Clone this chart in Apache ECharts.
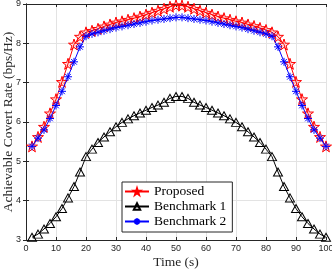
<!DOCTYPE html>
<html>
<head>
<meta charset="utf-8">
<script src="https://cdn.jsdelivr.net/npm/echarts@6/dist/echarts.min.js"></script>
<style>html,body{margin:0;padding:0;background:#fff;}#c{width:332px;height:271px;}</style>
</head>
<body>
<div id="c"></div>
<script>
var timeValues = [2,4,6,8,10,12,14,16,18,20,22,24,26,28,30,32,34,36,38,40,42,44,46,48,50,52,54,56,58,60,62,64,66,68,70,72,74,76,78,80,82,84,86,88,90,92,94,96,98,100];
var proposed = [5.38,5.62,5.88,6.22,6.58,7.02,7.48,7.97,8.17,8.28,8.32,8.37,8.43,8.48,8.53,8.56,8.60,8.64,8.68,8.73,8.78,8.83,8.88,8.93,8.97,8.96,8.93,8.88,8.83,8.78,8.73,8.68,8.64,8.60,8.56,8.53,8.48,8.44,8.39,8.34,8.28,8.17,7.97,7.48,7.02,6.58,6.22,5.88,5.62,5.38];
var benchmark1 = [3.07,3.15,3.28,3.42,3.59,3.80,4.07,4.36,4.73,5.12,5.31,5.48,5.62,5.75,5.88,5.99,6.08,6.16,6.23,6.30,6.37,6.43,6.50,6.60,6.65,6.65,6.60,6.50,6.43,6.37,6.30,6.23,6.16,6.08,5.99,5.88,5.75,5.62,5.48,5.31,5.12,4.73,4.36,4.07,3.80,3.59,3.42,3.28,3.15,3.07];
var benchmark2 = [5.38,5.59,5.80,6.09,6.42,6.78,7.15,7.53,7.91,8.18,8.24,8.28,8.32,8.36,8.40,8.43,8.46,8.49,8.52,8.55,8.58,8.60,8.62,8.64,8.66,8.66,8.64,8.62,8.60,8.58,8.55,8.52,8.49,8.46,8.43,8.40,8.36,8.32,8.28,8.24,8.18,7.91,7.53,7.15,6.78,6.42,6.09,5.80,5.59,5.38];
var seriesNames = ['Proposed','Benchmark 1','Benchmark 2'];
var xTitle = 'Time (s)';
var yTitle = 'Achievable Covert Rate (bps/Hz)';

function pairs(ys){ return timeValues.map(function(x,i){ return [x, ys[i]]; }); }

var starPath = 'path://M0,-1L0.225,-0.309L0.951,-0.309L0.363,0.118L0.588,0.809L0,0.382L-0.588,0.809L-0.363,0.118L-0.951,-0.309L-0.225,-0.309Z';
var asteriskPath = 'path://M0,-1L0,1M-1,0L1,0M-0.707,-0.707L0.707,0.707M-0.707,0.707L0.707,-0.707';

var axisCol = '#262626';
var tickFont = {color: axisCol, fontFamily: 'Liberation Sans, Arial, sans-serif', fontSize: 9};
var serif = 'Liberation Serif, Times New Roman, serif';

var chart = echarts.init(document.getElementById('c'), null, {renderer: 'canvas'});
chart.setOption({
  animation: false,
  backgroundColor: '#fff',
  grid: {left: 26, right: 6, top: 4, bottom: 31, containLabel: false, outerBoundsMode: 'none'},
  legend: {
    orient: 'vertical', left: 122, top: 182,
    padding: [2, 6, 3, 2],
    itemWidth: 24, itemHeight: 8, itemGap: 0,
    backgroundColor: '#fff', borderColor: axisCol, borderWidth: 1,
    textStyle: {fontFamily: serif, fontSize: 13.5, color: '#000', lineHeight: 15},
    data: seriesNames
  },
  xAxis: [{
    type: 'value', min: 0, max: 100, interval: 10,
    name: xTitle, nameLocation: 'middle', nameGap: 15, nameMoveOverlap: false,
    nameTextStyle: {fontFamily: serif, fontSize: 13.5, color: axisCol},
    axisLine: {show: true, lineStyle: {color: axisCol, width: 1}},
    axisTick: {show: true, inside: true, length: 3, lineStyle: {color: axisCol}},
    axisLabel: Object.assign({margin: 4}, tickFont),
    splitLine: {show: true, lineStyle: {color: '#e3e3e3', width: 1}}
  }, {
    type: 'value', min: 0, max: 100, interval: 10, position: 'top',
    axisLine: {show: true, lineStyle: {color: axisCol, width: 1}},
    axisTick: {show: true, inside: true, length: 3, lineStyle: {color: axisCol}},
    axisLabel: {show: false}, splitLine: {show: false}
  }],
  yAxis: [{
    type: 'value', min: 3, max: 9, interval: 1,
    name: yTitle, nameLocation: 'middle', nameGap: 11, nameRotate: 90, nameMoveOverlap: false,
    nameTextStyle: {fontFamily: serif, fontSize: 13.5, color: axisCol},
    axisLine: {show: true, lineStyle: {color: axisCol, width: 1}},
    axisTick: {show: true, inside: true, length: 3, lineStyle: {color: axisCol}},
    axisLabel: Object.assign({margin: 5}, tickFont),
    splitLine: {show: true, lineStyle: {color: '#e3e3e3', width: 1}}
  }, {
    type: 'value', min: 3, max: 9, interval: 1, position: 'right',
    axisLine: {show: true, lineStyle: {color: axisCol, width: 1}},
    axisTick: {show: true, inside: true, length: 3, lineStyle: {color: axisCol}},
    axisLabel: {show: false}, splitLine: {show: false}
  }],
  series: [{
    name: seriesNames[0], type: 'line', data: pairs(proposed),
    symbol: starPath, symbolSize: 11, showAllSymbol: true,
    lineStyle: {color: '#ff0000', width: 1},
    itemStyle: {color: 'rgba(255,0,0,0.12)', borderColor: '#ff0000', borderWidth: 1},
    z: 3
  }, {
    name: seriesNames[1], type: 'line', data: pairs(benchmark1),
    symbol: 'triangle', symbolSize: [9, 8], showAllSymbol: true,
    lineStyle: {color: '#000000', width: 1},
    itemStyle: {color: 'rgba(255,255,255,0)', borderColor: '#000000', borderWidth: 1},
    z: 2
  }, {
    name: seriesNames[2], type: 'line', data: pairs(benchmark2),
    symbol: asteriskPath, symbolSize: 8, showAllSymbol: true,
    lineStyle: {color: '#0000ff', width: 1},
    itemStyle: {color: 'rgba(0,0,255,0)', borderColor: '#0000ff', borderWidth: 1},
    z: 4
  }]
});
</script>
</body>
</html>
